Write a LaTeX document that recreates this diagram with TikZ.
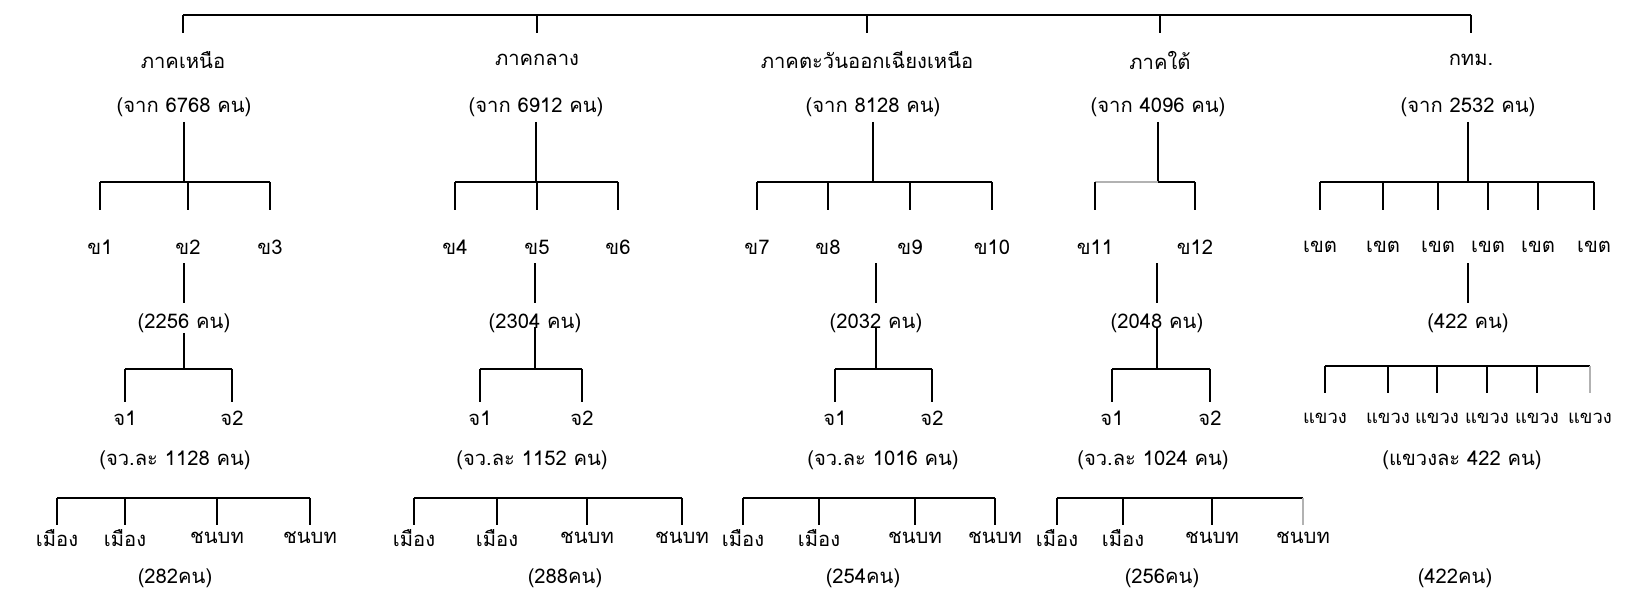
\documentclass[tikz,border=0pt]{standalone}
\usepackage{fontspec}
\setmainfont[Script=Thai]{Loma}
\usetikzlibrary{calc}

\tikzset{
  faint/.style={draw=gray!60},
  narrow/.style={font=\fontsize{10.5}{13}\selectfont}
}

\begin{document}
\begin{tikzpicture}[x=0.02cm,y=-0.02cm,line width=0.9pt,
  font=\fontsize{11.5}{14}\selectfont, every node/.style={inner sep=0pt}]
  \useasboundingbox (0,0) rectangle (1627,591);
  \coordinate (top) at (0,15);
  \coordinate (ba) at (0,182);
  \coordinate (bb) at (0,369);
  \coordinate (bw) at (0,366);
  \coordinate (bc) at (0,498);

  \node (r1) at (183,60) {ภาคเหนือ};
  \node (r2) at (537,60) {ภาคกลาง};
  \node (r3) at (867,60) {ภาคตะวันออกเฉียงเหนือ};
  \node (r4) at (1160,60) {ภาคใต้};
  \node (r5) at (1471,60) {กทม.};
  \node (n1) at (184,107) {(จาก 6768 คน)};
  \node (n2) at (536,107) {(จาก 6912 คน)};
  \node (n3) at (873,107) {(จาก 8128 คน)};
  \node (n4) at (1158,107) {(จาก 4096 คน)};
  \node (n5) at (1468,107) {(จาก 2532 คน)};
  \draw (r1 |- top) -- (r5 |- top);
  \foreach \r in {r1,r2,r3,r4,r5} \draw (\r |- top) -- ($(\r)+(0,-27)$);
  \foreach \n in {n1,n2,n3,n4,n5} \draw ($(\n)+(0,15)$) -- (\n |- ba);

  \foreach \x [count=\i] in {100,188,270,455,537,618,757,828,910,992,1095,1195}
    \node (z\i) at (\x,247) {ข\i};
  \foreach \x [count=\i] in {1320,1383,1438,1488,1538,1594}
    \node (d\i) at (\x,247) {เขต};
  \draw (z1 |- ba) -- (z3 |- ba);
  \draw (z4 |- ba) -- (z6 |- ba);
  \draw (z7 |- ba) -- (z10 |- ba);
  \draw[faint] (z11 |- ba) -- (n4 |- ba);
  \draw (n4 |- ba) -- (z12 |- ba);
  \draw (d1 |- ba) -- (d6 |- ba);
  \foreach \k in {z1,z2,z3,z4,z5,z6,z7,z8,z9,z10,z11,z12,d1,d2,d3,d4,d5,d6}
    \draw (\k |- ba) -- ($(\k)+(0,-37)$);

  \node (c1) at (184,323) {(2256 คน)};
  \node (c2) at (535,323) {(2304 คน)};
  \node (c3) at (876,323) {(2032 คน)};
  \node (c4) at (1157,323) {(2048 คน)};
  \node (c5) at (1468,323) {(422 คน)};
  \foreach \c in {c1,c2,c3,c4,c5} \draw ($(\c)+(0,-20)$) -- ($(\c |- z1)+(0,16)$);
  \draw ($(c1)+(0,10)$) -- (c1 |- bb);
  \foreach \c in {c2,c3,c4} \draw ($(\c)+(0,4)$) -- (\c |- bb);

  \foreach \x/\t [count=\i] in {125/1,232/2,480/1,582/2,835/1,932/2,1112/1,1210/2}
    \node (p\i) at (\x,418) {จ\t};
  \foreach \x [count=\i] in {1325,1388,1437,1487,1537,1590}
    \node[narrow] (w\i) at (\x,418) {แขวง};
  \draw (p1 |- bb) -- (p2 |- bb);
  \draw (p3 |- bb) -- (p4 |- bb);
  \draw (p5 |- bb) -- (p6 |- bb);
  \draw (p7 |- bb) -- (p8 |- bb);
  \foreach \i in {1,...,8} \draw (p\i |- bb) -- ($(p\i)+(0,-16)$);
  \draw (w1 |- bw) -- (w6 |- bw);
  \foreach \i in {1,...,5} \draw (w\i |- bw) -- ($(w\i)+(0,-25)$);
  \draw[faint] (w6 |- bw) -- ($(w6)+(0,-25)$);

  \node (q1) at (175,460) {(จว.ละ 1128 คน)};
  \node (q2) at (532,460) {(จว.ละ 1152 คน)};
  \node (q3) at (883,460) {(จว.ละ 1016 คน)};
  \node (q4) at (1153,460) {(จว.ละ 1024 คน)};
  \node (q5) at (1462,460) {(แขวงละ 422 คน)};

  \foreach \x/\s [count=\i] in {57/เมือง,125/เมือง,217/ชนบท,310/ชนบท,
      414/เมือง,497/เมือง,587/ชนบท,682/ชนบท,743/เมือง,819/เมือง,915/ชนบท,995/ชนบท,
      1057/เมือง,1123/เมือง,1212/ชนบท,1303/ชนบท}
    \node (m\i) at (\x,538) {\s};
  \draw (m1 |- bc) -- (m4 |- bc);
  \draw (m5 |- bc) -- (m8 |- bc);
  \draw (m9 |- bc) -- (m12 |- bc);
  \draw (m13 |- bc) -- (m16 |- bc);
  \foreach \i in {1,...,15} \draw (m\i |- bc) -- ($(m\i)+(0,-13)$);
  \draw[faint] (m16 |- bc) -- ($(m16)+(0,-13)$);

  \node (f1) at (175,578) {(282คน)};
  \node (f2) at (565,578) {(288คน)};
  \node (f3) at (863,578) {(254คน)};
  \node (f4) at (1162,578) {(256คน)};
  \node (f5) at (1455,578) {(422คน)};
\end{tikzpicture}
\end{document}
